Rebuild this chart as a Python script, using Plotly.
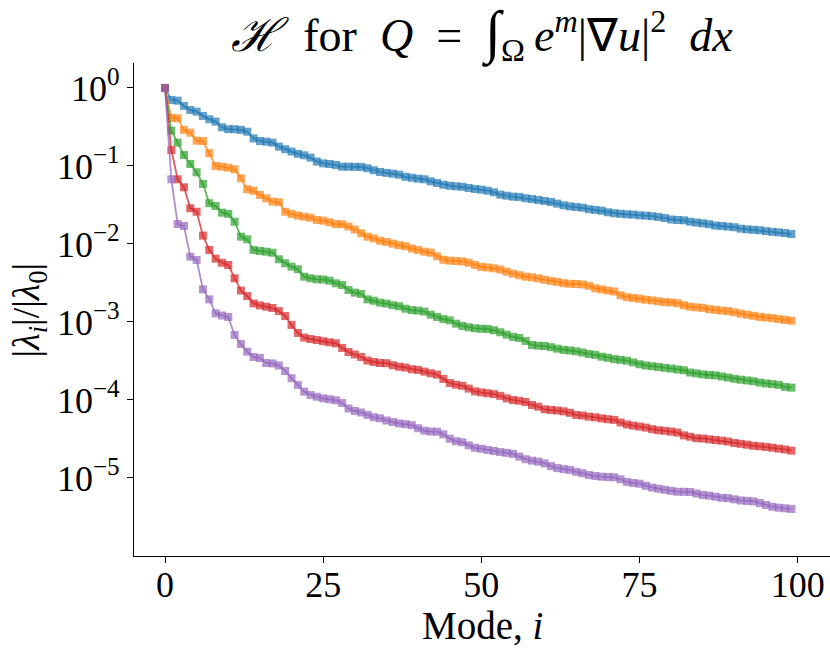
import plotly.graph_objects as go

modes = list(range(100))

series_names = ["case 1", "case 2", "case 3", "case 4", "case 5"]
series_colors = ["#1f77b4", "#ff7f0e", "#2ca02c", "#d62728", "#9467bd"]

blue = [
    1.0, 0.702, 0.687, 0.588, 0.522, 0.497, 0.438, 0.397, 0.370, 0.313,
    0.296, 0.296, 0.290, 0.275, 0.226, 0.209, 0.205, 0.199, 0.177, 0.164,
    0.153, 0.143, 0.137, 0.128, 0.114, 0.108, 0.106, 0.103, 0.098, 0.0978,
    0.0976, 0.097, 0.0935, 0.0881, 0.0838, 0.0816, 0.0797, 0.0773, 0.0727, 0.0706,
    0.0687, 0.0675, 0.0636, 0.0605, 0.0575, 0.0558, 0.0549, 0.0540, 0.0522, 0.0507,
    0.0497, 0.0482, 0.0460, 0.0429, 0.0416, 0.0404, 0.0401, 0.0385, 0.0378, 0.0366,
    0.0356, 0.0345, 0.0329, 0.0313, 0.0304, 0.0298, 0.0292, 0.0279, 0.0273, 0.0267,
    0.0255, 0.0248, 0.0244, 0.0240, 0.0238, 0.0233, 0.0231, 0.0227, 0.0222, 0.0215,
    0.0206, 0.0203, 0.0201, 0.0193, 0.0188, 0.0184, 0.0179, 0.0172, 0.0170, 0.0167,
    0.0164, 0.0157, 0.0154, 0.0152, 0.0150, 0.0146, 0.0143, 0.0141, 0.0138, 0.0134,
]

orange = [
    1.0, 0.412, 0.409, 0.290, 0.267, 0.211, 0.209, 0.146, 0.100, 0.098,
    0.0951, 0.0907, 0.0696, 0.0503, 0.0482, 0.0425, 0.0385, 0.0349, 0.0343, 0.0259,
    0.0243, 0.0231, 0.0224, 0.0217, 0.0203, 0.0199, 0.0190, 0.0180, 0.0179, 0.0167,
    0.0153, 0.0137, 0.0124, 0.0118, 0.0110, 0.0106, 0.0101, 9.66e-3, 9.37e-3, 8.75e-3,
    8.38e-3, 7.96e-3, 7.73e-3, 6.95e-3, 6.29e-3, 6.12e-3, 6.05e-3, 5.97e-3, 5.75e-3, 5.38e-3,
    5.07e-3, 5.00e-3, 4.88e-3, 4.71e-3, 4.41e-3, 4.16e-3, 3.98e-3, 3.81e-3, 3.74e-3, 3.63e-3,
    3.48e-3, 3.36e-3, 3.26e-3, 3.14e-3, 3.09e-3, 3.07e-3, 3.03e-3, 2.90e-3, 2.70e-3, 2.62e-3,
    2.53e-3, 2.46e-3, 2.20e-3, 2.08e-3, 2.03e-3, 1.99e-3, 1.93e-3, 1.89e-3, 1.84e-3, 1.80e-3,
    1.78e-3, 1.74e-3, 1.64e-3, 1.57e-3, 1.54e-3, 1.52e-3, 1.46e-3, 1.43e-3, 1.40e-3, 1.38e-3,
    1.33e-3, 1.28e-3, 1.24e-3, 1.20e-3, 1.16e-3, 1.14e-3, 1.12e-3, 1.09e-3, 1.06e-3, 1.04e-3,
]

green = [
    1.0, 0.284, 0.199, 0.138, 0.106, 0.0830, 0.0588, 0.0333, 0.0307, 0.0252,
    0.0243, 0.0193, 0.0124, 0.0115, 8.38e-3, 8.13e-3, 7.96e-3, 7.73e-3, 6.37e-3, 5.66e-3,
    5.12e-3, 4.74e-3, 3.81e-3, 3.63e-3, 3.52e-3, 3.50e-3, 3.38e-3, 3.13e-3, 2.98e-3, 2.57e-3,
    2.38e-3, 2.29e-3, 1.95e-3, 1.87e-3, 1.77e-3, 1.72e-3, 1.64e-3, 1.59e-3, 1.48e-3, 1.42e-3,
    1.40e-3, 1.36e-3, 1.24e-3, 1.16e-3, 1.09e-3, 1.05e-3, 9.51e-4, 8.91e-4, 8.55e-4, 8.30e-4,
    8.20e-4, 8.13e-4, 7.83e-4, 7.38e-4, 6.87e-4, 6.44e-4, 6.24e-4, 5.70e-4, 5.07e-4, 4.97e-4,
    4.92e-4, 4.75e-4, 4.55e-4, 4.39e-4, 4.31e-4, 4.21e-4, 4.06e-4, 3.89e-4, 3.78e-4, 3.59e-4,
    3.48e-4, 3.34e-4, 3.27e-4, 3.19e-4, 3.03e-4, 2.87e-4, 2.77e-4, 2.71e-4, 2.65e-4, 2.58e-4,
    2.53e-4, 2.46e-4, 2.41e-4, 2.25e-4, 2.19e-4, 2.13e-4, 2.09e-4, 2.07e-4, 2.00e-4, 1.94e-4,
    1.87e-4, 1.82e-4, 1.78e-4, 1.74e-4, 1.67e-4, 1.63e-4, 1.60e-4, 1.56e-4, 1.47e-4, 1.44e-4,
]

red = [
    1.0, 0.160, 0.0675, 0.0533, 0.0287, 0.0259, 0.0128, 8.38e-3, 6.48e-3, 5.75e-3,
    5.38e-3, 3.63e-3, 2.53e-3, 2.15e-3, 1.73e-3, 1.63e-3, 1.57e-3, 1.51e-3, 1.38e-3, 1.19e-3,
    9.16e-4, 7.23e-4, 6.32e-4, 6.05e-4, 5.87e-4, 5.66e-4, 5.49e-4, 5.33e-4, 4.65e-4, 4.12e-4,
    3.83e-4, 3.56e-4, 3.21e-4, 3.07e-4, 2.98e-4, 2.96e-4, 2.79e-4, 2.67e-4, 2.61e-4, 2.48e-4,
    2.43e-4, 2.31e-4, 2.20e-4, 2.11e-4, 1.86e-4, 1.65e-4, 1.57e-4, 1.52e-4, 1.40e-4, 1.29e-4,
    1.25e-4, 1.22e-4, 1.19e-4, 1.13e-4, 1.05e-4, 1.00e-4, 9.77e-5, 9.42e-5, 8.63e-5, 8.20e-5,
    7.60e-5, 7.45e-5, 7.33e-5, 7.16e-5, 6.85e-5, 6.43e-5, 6.33e-5, 6.11e-5, 6.00e-5, 5.82e-5,
    5.67e-5, 5.56e-5, 5.15e-5, 4.85e-5, 4.69e-5, 4.57e-5, 4.43e-5, 4.23e-5, 4.09e-5, 4.03e-5,
    3.93e-5, 3.82e-5, 3.52e-5, 3.38e-5, 3.23e-5, 3.21e-5, 3.13e-5, 3.07e-5, 3.01e-5, 2.94e-5,
    2.81e-5, 2.74e-5, 2.67e-5, 2.59e-5, 2.55e-5, 2.50e-5, 2.44e-5, 2.38e-5, 2.32e-5, 2.24e-5,
]

purple = [
    1.0, 0.0675, 0.0180, 0.0170, 6.87e-3, 6.24e-3, 2.62e-3, 1.95e-3, 1.29e-3, 1.21e-3,
    1.16e-3, 6.81e-4, 5.22e-4, 4.16e-4, 3.56e-4, 3.45e-4, 2.98e-4, 2.94e-4, 2.77e-4, 2.35e-4,
    1.90e-4, 1.56e-4, 1.28e-4, 1.16e-4, 1.10e-4, 1.05e-4, 1.02e-4, 9.91e-5, 9.16e-5, 7.78e-5,
    7.23e-5, 6.92e-5, 6.43e-5, 6.00e-5, 5.82e-5, 5.46e-5, 5.22e-5, 5.00e-5, 4.90e-5, 4.75e-5,
    4.34e-5, 4.04e-5, 3.94e-5, 3.92e-5, 3.63e-5, 3.19e-5, 2.96e-5, 2.87e-5, 2.62e-5, 2.44e-5,
    2.37e-5, 2.29e-5, 2.22e-5, 2.15e-5, 2.10e-5, 2.04e-5, 1.88e-5, 1.74e-5, 1.67e-5, 1.62e-5,
    1.54e-5, 1.42e-5, 1.34e-5, 1.30e-5, 1.27e-5, 1.20e-5, 1.15e-5, 1.09e-5, 1.06e-5, 1.04e-5,
    1.03e-5, 1.02e-5, 9.62e-6, 8.91e-6, 8.63e-6, 8.45e-6, 7.94e-6, 7.52e-6, 7.28e-6, 7.06e-6,
    6.84e-6, 6.67e-6, 6.65e-6, 6.62e-6, 6.33e-6, 6.05e-6, 5.93e-6, 5.75e-6, 5.58e-6, 5.51e-6,
    5.33e-6, 5.15e-6, 5.08e-6, 5.01e-6, 4.78e-6, 4.51e-6, 4.28e-6, 4.16e-6, 4.09e-6, 4.01e-6,
]

y_tick_vals = [1, 1e-1, 1e-2, 1e-3, 1e-4, 1e-5]
y_tick_text = ["10<sup>0</sup>", "10<sup>\u22121</sup>", "10<sup>\u22122</sup>",
               "10<sup>\u22123</sup>", "10<sup>\u22124</sup>", "10<sup>\u22125</sup>"]
x_tick_vals = [0, 25, 50, 75, 100]

FONT = "Liberation Serif, Times New Roman, serif"


def rgba(hex_color, a):
    h = hex_color.lstrip("#")
    return "rgba(%d,%d,%d,%s)" % (int(h[0:2], 16), int(h[2:4], 16), int(h[4:6], 16), a)


fig = go.Figure()
for name, color, vals in zip(series_names, series_colors, [blue, orange, green, red, purple]):
    fig.add_trace(go.Scatter(
        x=modes, y=vals, mode="lines+markers", name=name,
        line=dict(color=rgba(color, 0.75), width=1.8),
        marker=dict(symbol="square", size=8, color=rgba(color, 0.7), line=dict(width=0)),
        showlegend=False,
    ))

title_text = ("<i>\u210B</i>\u2002for\u2002<i>Q</i>\u2002=\u2002"
              "<span style='font-size:58px'>\u222B</span><sub>\u03A9</sub>\u2009"
              "<i>e</i><sup><i>m</i></sup>|\u2207<i>u</i>|<sup>2</sup>\u2002<i>dx</i>")

fig.update_layout(
    width=830, height=650,
    margin=dict(l=134, r=0, t=63, b=94, autoexpand=False),
    paper_bgcolor="white", plot_bgcolor="white",
    font=dict(family=FONT, color="black"),
    title=dict(
        text=title_text,
        x=0.5, xref="paper", xanchor="center",
        y=1 - 35 / 650, yref="container", yanchor="middle",
        font=dict(family=FONT, size=46, color="black"),
        automargin=False,
    ),
    xaxis=dict(
        range=[-4.9, 105.1], tickvals=x_tick_vals,
        showline=True, linecolor="black", linewidth=1.2, mirror=False,
        ticks="outside", ticklen=6, tickwidth=1.2, tickcolor="black",
        showgrid=False, zeroline=False, automargin=False,
        ticklabelstandoff=-9,
        tickfont=dict(family=FONT, size=36, color="black"),
    ),
    yaxis=dict(
        type="log", range=[-6.0, 0.32],
        tickvals=y_tick_vals, ticktext=y_tick_text,
        showline=True, linecolor="black", linewidth=1.2, mirror=False,
        ticks="outside", ticklen=6, tickwidth=1.2, tickcolor="black",
        showgrid=False, zeroline=False, automargin=False,
        tickfont=dict(family=FONT, size=36, color="black"),
    ),
    annotations=[
        dict(text="Mode, <i>i</i>", xref="paper", yref="paper", x=0.5, y=-0.14,
             xanchor="center", yanchor="middle", showarrow=False,
             font=dict(family=FONT, size=39, color="black")),
        dict(text="|<i>\u03BB<sub>i</sub></i>|/|<i>\u03BB</i><sub>0</sub>|", xref="paper", yref="paper",
             x=-0.151, y=0.5, xanchor="center", yanchor="middle", textangle=-90, showarrow=False,
             font=dict(family=FONT, size=38, color="black")),
    ],
)

fig.write_html(
    "out.html",
    config={"displayModeBar": False},
    post_script="document.body.style.margin='0px';document.body.style.padding='0px';",
)
